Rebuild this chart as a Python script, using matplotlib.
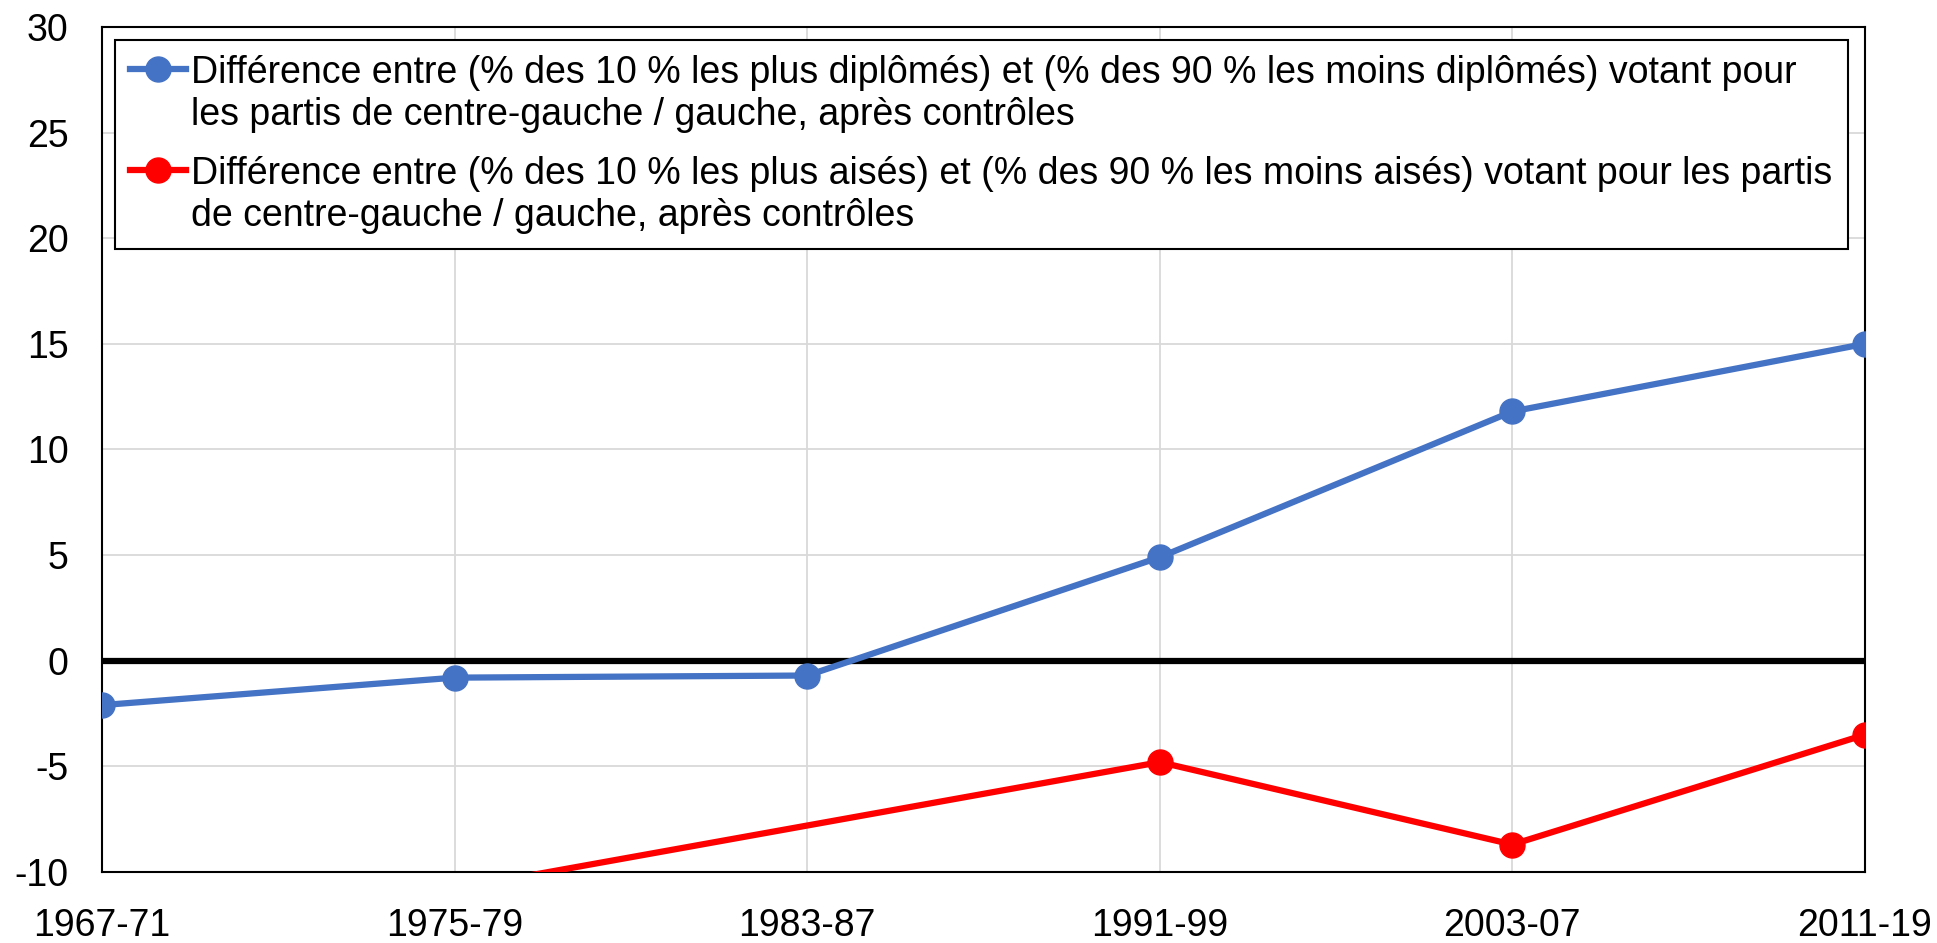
#!/usr/bin/env python3
"""
Écart de vote pour la gauche : diplômés vs aisés, par période électorale.
"""

import numpy as np
import matplotlib
matplotlib.use("Agg")
import matplotlib.pyplot as plt

plt.rcParams['font.family'] = ['Liberation Sans', 'DejaVu Sans']
plt.rcParams['axes.unicode_minus'] = False

# Données
periods = ["1967-71", "1975-79", "1983-87", "1991-99", "2003-07", "2011-19"]
diplomes = [-2.1, -0.8, -0.7, 4.9, 11.8, 15.0]
# 1983-87 manquant : la ligne relie les points voisins
aises = [-12.0, -10.8, np.nan, -4.8, -8.7, -3.5]

label_diplomes = ("Différence entre (% des 10 % les plus diplômés) et (% des 90 % les moins diplômés) votant pour\n"
                  "les partis de centre-gauche / gauche, après contrôles")
label_aises = ("Différence entre (% des 10 % les plus aisés) et (% des 90 % les moins aisés) votant pour les partis\n"
               "de centre-gauche / gauche, après contrôles")

BLUE = "#4472C4"
RED = "#FF0000"
GRID = "#D9D9D9"
FS = 27


def main():
    fig = plt.figure(figsize=(19.37, 9.43), dpi=100)
    ax = fig.add_axes([0.0527, 0.0753, 0.9101, 0.8961])

    x = np.arange(len(periods))
    y_red = np.array(aises, dtype=float)
    ok = ~np.isnan(y_red)

    ax.axhline(0, color="black", lw=4.5, zorder=2)
    ax.plot(x, diplomes, color=BLUE, lw=4.5, marker="o", markersize=18,
            label=label_diplomes, zorder=3)
    ax.plot(x[ok], y_red[ok], color=RED, lw=4.5, marker="o", markersize=18,
            label=label_aises, zorder=3)

    ax.set_xlim(0, len(periods) - 1)
    ax.set_ylim(-10, 30)
    ax.set_yticks(np.arange(-10, 31, 5))
    ax.set_xticks(x)
    ax.set_xticklabels(periods)
    ax.tick_params(axis="both", length=0, labelsize=FS)
    ax.tick_params(axis="x", pad=26)
    ax.tick_params(axis="y", pad=24)

    ax.grid(True, color=GRID, lw=1.3, zorder=0)
    ax.set_axisbelow(True)
    for s in ax.spines.values():
        s.set_color("black")
        s.set_linewidth(1.5)

    leg = ax.legend(loc="upper left", fontsize=FS, frameon=True, fancybox=False,
                    framealpha=1, edgecolor="black", borderaxespad=0.35,
                    borderpad=0.4, handlelength=1.5, handletextpad=0.13,
                    labelspacing=0.62)
    leg.get_frame().set_linewidth(1.5)

    # remonter les symboles au niveau de la première ligne de chaque libellé
    for col in leg._legend_handle_box.get_children():
        for item in col.get_children():
            handle = item.get_children()[0]
            for art in handle.get_children():
                art.set_ydata(np.asarray(art.get_ydata()) + 18.5)

    fig.savefig("out.png", dpi=100)


if __name__ == "__main__":
    main()
